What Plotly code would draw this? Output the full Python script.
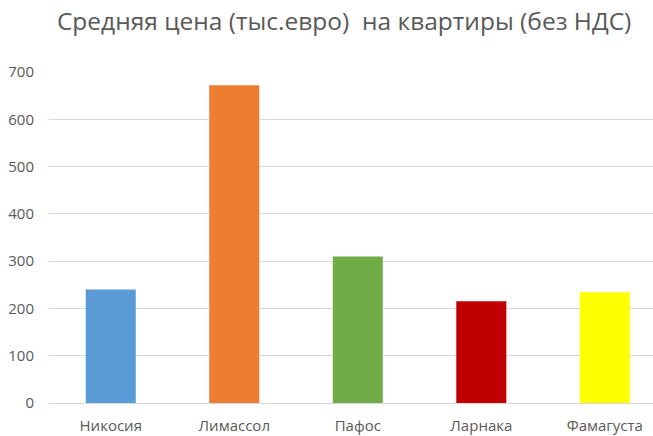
import plotly.graph_objects as go

cities = ["Никосия", "Лимассол", "Пафос", "Ларнака", "Фамагуста"]
prices = [240, 672, 310, 215, 234]
colors = ["#5B9BD5", "#ED7D31", "#70AD47", "#C00000", "#FFFF00"]
title = "Средняя цена (тыс.евро)  на квартиры (без НДС)"

fig = go.Figure(go.Bar(x=cities, y=prices, marker=dict(color=colors, line=dict(width=0)),
                       width=0.405))
fig.update_layout(
    width=653, height=436,
    margin=dict(l=49, r=0, t=72, b=33),
    paper_bgcolor="white", plot_bgcolor="white",
    showlegend=False,
    font=dict(family="Open Sans", color="#595959", size=15),
    title=dict(text=title, x=0.527, xanchor="center", y=0.95, yanchor="middle",
               font=dict(size=24.5, color="#595959", family="Open Sans")),
    xaxis=dict(range=[-0.5, 4.39], showgrid=False, showline=False, ticks="",
               ticklabelstandoff=12,
               tickfont=dict(size=15, color="#595959")),
    yaxis=dict(range=[0, 700], dtick=100, showgrid=True, gridcolor="#D9D9D9", gridwidth=1,
               zeroline=True, zerolinecolor="#D9D9D9", zerolinewidth=1,
               showline=False, ticks="", ticklabelstandoff=14,
               tickfont=dict(size=15, color="#595959")),
)
fig.write_html("out.html")
